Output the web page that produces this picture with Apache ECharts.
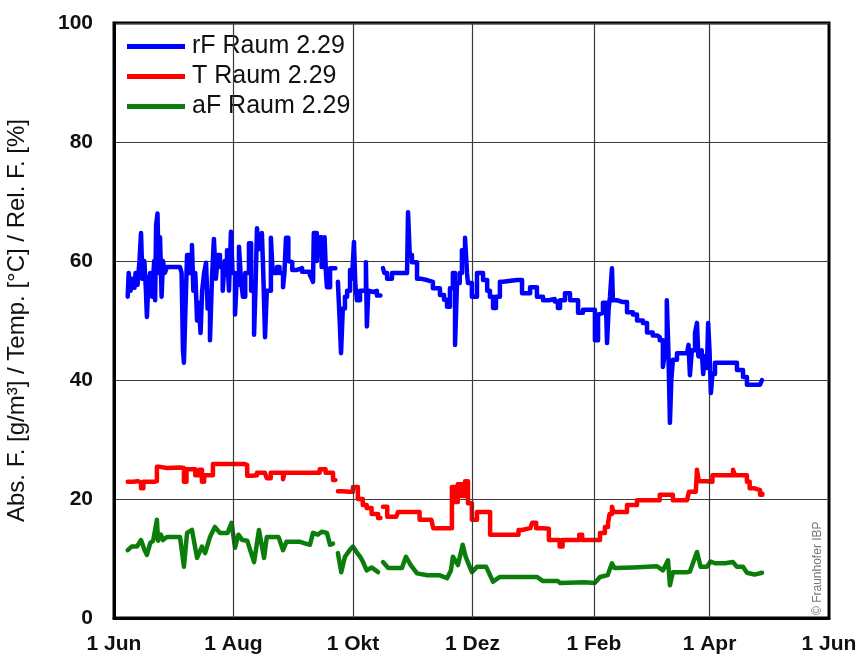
<!DOCTYPE html>
<html>
<head>
<meta charset="utf-8">
<script src="https://cdn.jsdelivr.net/npm/echarts@6/dist/echarts.min.js"></script>
<style>
html,body{margin:0;padding:0;background:#fff;}
#c{width:864px;height:666px;}
</style>
</head>
<body>
<div id="c"></div>
<script>
// x values: days since 1 Jun
const tickDays = [0, 61, 122, 183, 245, 304, 365];
const tickLabels = ['1 Jun', '1 Aug', '1 Okt', '1 Dez', '1 Feb', '1 Apr', '1 Jun'];
const yTicks = [0, 20, 40, 60, 80, 100];

const seriesNames = ['rF Raum 2.29', 'T Raum 2.29', 'aF Raum 2.29'];

const rfDay = [7,7.5,8.5,9.5,10.5,11,12,13,13.8,14.5,15.5,16.3,16.8,17.5,18.5,19.5,20.5,21,21.5,22.2,22.8,23.5,24.3,25,26,27,30,33.7,34.5,35.2,35.7,36.3,37.3,38.5,39.8,40.5,41.5,42.4,43.2,44.2,45,46,47,47.8,49,50,51,52,53,54.1,55.5,56.5,57.7,58.7,59.7,60.5,61.8,62.5,63.8,64.8,65.8,67,68.9,70,71.5,72.2,73,74,75.5,76.2,77.1,78,80.1,81,83.2,84.5,86.3,87,87.8,89,89.8,91,93.4,96,100,101,101.6,102,103.5,104.5,106,107.5,108.2,108.7,110.3,111.8,113,114.3,115.2,115.9,116.8,117.9,119,120.5,121.5,122.5,123.2,124,125.6,127,128.6,129.1,129.8,130.7,132.5,134.2,136,137.3,138,139.4,141.9,149.6,150.1,151,152.1,154.7,157,159.8,162.8,166.4,168.5,170,171.5,173,174.1,175.1,176.5,177.6,179.2,180.2,180.7,182.7,185.3,188.4,190.5,191.9,193.5,195,197,198.6,205.7,208.3,212.4,215.9,219,222,225,226.6,227.7,230.2,232.8,236.9,239.4,243,245.5,247.1,248.1,249.6,251.2,251.7,252.5,253.2,254.2,254.7,256.8,259.8,261.9,264.9,267,270,272.1,275,277.2,278.6,280.2,281,282.2,283,283.8,284.5,285.3,287.4,290,292.5,293.3,294,295,296.6,297.6,298.3,299.1,300,300.8,301.5,302.7,303.3,304,304.7,305.5,306.8,308.4,312,316,318,321.1,323.1,327,329.8,330.8];
const rfVal = [54,58,55,57,55.5,58,56,60,64.7,57,60,55,50.6,56,58,54,60,53.4,66,68,58,64,54,60,58,59,59,59,58,45,42.9,50,61,58,62.7,55,58,50,53,47.9,55,58,59.7,52,46.7,57,63.7,57,61,59,55,60,61.8,55,64.9,58,51,56,62.4,57,54,58,63,55,47.6,55,65.5,62,64.7,58,47.2,55,63.9,58,59,58,55.6,58,63.9,60,59.8,58.5,58.8,58.2,57.6,57,56.5,64.7,60,64,59,64,58,55.6,58.8,58.8,null,56.5,50,44.5,52,54,55,58.5,57,63.2,56,53.4,55,55,59.8,49,55,54.8,55,54.2,null,58.8,58,57,58,58,68.2,61,59.8,57,56.8,56.5,55.4,54.3,53.5,52.3,55.4,58,45.9,56.3,58,61.8,63.9,58,56.3,54,58,56.8,55,54,52.1,54,56.5,56.8,56.8,54.6,55.6,54,53.4,53.6,53.2,52.1,53.4,54.6,53.4,51.3,51.8,51.8,46.7,51,51.3,53,52,46.2,52,54,58.8,53.4,53.1,53.1,51.4,51,50,49.6,48,47.5,47.2,46.7,42.2,44,53.4,45,32.8,40,43.4,44.5,44.5,44.5,45.9,40.8,45,47.9,49.6,44,43.9,45,41,44,42,49.6,45,37.8,41,42.9,42.9,42.9,42.9,41.7,40.5,39.2,39.2,39.2,40];

const tDay = [7,10,12,13.8,15,18,20.5,21.9,23.5,27,33.7,35.7,37,39,41.5,43.5,44.9,46,47.5,50.5,60,66.5,68,70.5,73,77,78,80,86.3,87,95,100,103,105,108,111.8,113,114.3,116.5,120,122,124.5,127,129,131.5,134.8,136,137.3,139.5,144,145,154.7,156,162,163,171,172.5,174,175.5,177.5,179.2,180.7,182.7,185.3,190,192,205,206.5,208.3,212.5,213.5,215.5,219,222,226,227.5,229,236,237.5,239,245.5,248.1,250.6,252.2,253,254.2,255,259.8,261.9,264.9,267,277.2,278.6,283.8,285.3,292.5,293.5,297,297.6,298.5,302.7,305.5,312,316,317,321.1,323.1,324.5,327,329.8,331];
const tVal = [22.9,23,22.8,21.8,22.9,22.9,23,25.4,25.2,25.3,25.2,22.9,25,25,24,24.9,22.9,24,24,25.9,25.9,25.7,23.9,24,24.4,24.4,23.5,24.4,23.3,24.4,24.4,24.4,24.4,25,24.4,23.2,null,21.3,21.2,21.2,22,20,19,18.5,17.5,16.8,null,18.7,17,17,17.8,17.8,16.5,16.5,15.1,15.1,22,19.5,22.5,20.5,23,19.3,16.5,17.8,17.8,14,14,14.8,15.1,15.1,16,15.1,15,13.1,13.1,12,13.1,13.1,14,13.1,13.1,14.3,15.3,16,17.5,18.7,17.8,17.8,19,19,19.8,19.8,20.7,20.7,19.8,19.8,21.2,21.2,24.9,23,22.9,24,24,24.9,24,24,22.9,21.8,21.5,20.7,20.9];

const afDay = [7,9,11.7,13.8,15.5,16.8,18.5,20,21.9,22.5,24,25,27,33.7,35.7,37.3,39.8,42.4,44.9,46.5,49,51.5,54.1,58,60,61.8,63.5,65.5,68,71.5,74,76.6,78,84,86.3,88,95,100,101.6,104,106,108.7,110.3,111.8,113,114.3,116,117.9,120.5,122,124,125.6,127,129,131.5,134.8,136,137.3,140,147,149,151.5,154.7,160,166,170,172,173,175.6,178,179.5,182.7,185.3,190,193.5,197,205.7,215.9,219,226.6,227.7,240,245.5,248.1,252,254.2,255.5,265,277.2,280.2,282.8,283.8,285.3,292.5,294,297.6,299.5,302.7,304.5,306.8,312,316,318,321.1,323.1,327,330.8];
const afVal = [11.4,12,12,13.1,11.5,10.6,12.6,13,16.5,13,14,13.1,13.6,13.6,8.6,14.3,14.8,10.1,12,10.9,13.6,15.3,14.3,14.3,16,11.8,14,13.1,13,9.4,14.8,10.1,13.6,13.6,11.4,12.8,12.8,12.3,14.3,14,14.5,14.3,12.3,12.5,null,10.9,7.7,10.3,11.5,12,11,10.3,9.5,8,8.5,7.7,null,9.4,8.4,8.4,10.3,8.9,7.5,7.2,7.2,6.7,8,10.3,8.9,12.3,10.3,7.7,8.6,8.6,6.1,6.9,6.9,6.9,6.2,6.2,5.9,6,5.9,6.9,7.2,9.2,8.4,8.5,8.7,8,9.7,5.5,7.7,7.7,7.8,11.1,8.6,8.6,9.5,9.2,9.2,9.4,8.6,8.6,7.6,7.3,7.6];

function zip(d, v) { return d.map((x, i) => [x, v[i]]); }

const chart = echarts.init(document.getElementById('c'), null, {renderer: 'canvas'});
const labelMap = {};
tickDays.forEach((d, i) => { labelMap[d] = tickLabels[i]; });

const gridColor = '#3a3a3a';
const lineStyleBase = {width: 4.5, join: 'round', cap: 'round'};

chart.setOption({
  animation: false,
  backgroundColor: '#fff',
  grid: {left: 114, right: 35, top: 23, bottom: 48, show: true, borderColor: '#000', borderWidth: 3, backgroundColor: 'transparent', containLabel: false, outerBoundsMode: 'none'},
  legend: {
    left: 121, top: 30, orient: 'vertical',
    backgroundColor: '#fff',
    padding: [4, 8, 8, 6],
    itemWidth: 58, itemHeight: 5, itemGap: 5,
    icon: 'rect',
    textStyle: {fontFamily: 'Liberation Sans, Arial, sans-serif', fontSize: 25, color: '#111', lineHeight: 25, padding: [0, 0, 0, 2]},
    data: seriesNames
  },
  xAxis: {
    type: 'value', min: 0, max: 365,
    axisLine: {show: true, lineStyle: {color: '#000', width: 3}},
    axisTick: {show: false, customValues: tickDays},
    splitLine: {show: false},
    axisLabel: {
      customValues: tickDays,
      formatter: v => labelMap[v] || '',
      fontFamily: 'Liberation Sans Narrow, Liberation Sans, Arial, sans-serif',
      fontWeight: 'bold', fontSize: 21, color: '#111', margin: 16
    }
  },
  yAxis: {
    type: 'value', min: 0, max: 100, interval: 20,
    name: 'Abs. F. [g/m³] / Temp. [°C] / Rel. F. [%]',
    nameLocation: 'middle', nameGap: 85, nameRotate: 90,
    nameTextStyle: {fontFamily: 'Liberation Sans, Arial, sans-serif', fontSize: 24, color: '#111'},
    axisLine: {show: true, lineStyle: {color: '#000', width: 3}},
    axisTick: {show: false},
    splitLine: {show: true, lineStyle: {color: gridColor, width: 1.2}},
    axisLabel: {
      fontFamily: 'Liberation Sans, Arial, sans-serif',
      fontWeight: 'bold', fontSize: 21, color: '#111', margin: 21
    }
  },
  graphic: [{
    type: 'text', x: 824, y: 615, rotation: Math.PI / 2, silent: true,
    style: {text: '© Fraunhofer IBP', fontFamily: 'Liberation Sans, Arial, sans-serif', fontSize: 12, fill: '#777', align: 'left', verticalAlign: 'bottom'}
  }],
  series: [
    {
      name: seriesNames[2], type: 'line', data: zip(afDay, afVal), showSymbol: false, symbol: 'none',
      color: '#0a7d0a', lineStyle: Object.assign({color: '#0a7d0a'}, lineStyleBase), connectNulls: false, z: 3,
      markLine: {
        silent: true, symbol: 'none', label: {show: false},
        lineStyle: {color: gridColor, width: 1.2, type: 'solid'},
        data: tickDays.slice(1, -1).map(d => ({xAxis: d}))
      }
    },
    {
      name: seriesNames[1], type: 'line', step: 'end', data: zip(tDay, tVal), showSymbol: false, symbol: 'none',
      color: '#ff0000', lineStyle: Object.assign({color: '#ff0000'}, lineStyleBase), connectNulls: false, z: 4
    },
    {
      name: seriesNames[0], type: 'line', step: 'end', data: zip(rfDay, rfVal), showSymbol: false, symbol: 'none',
      color: '#0000ff', lineStyle: Object.assign({color: '#0000ff'}, lineStyleBase), connectNulls: false, z: 5
    }
  ]
});
</script>
</body>
</html>
